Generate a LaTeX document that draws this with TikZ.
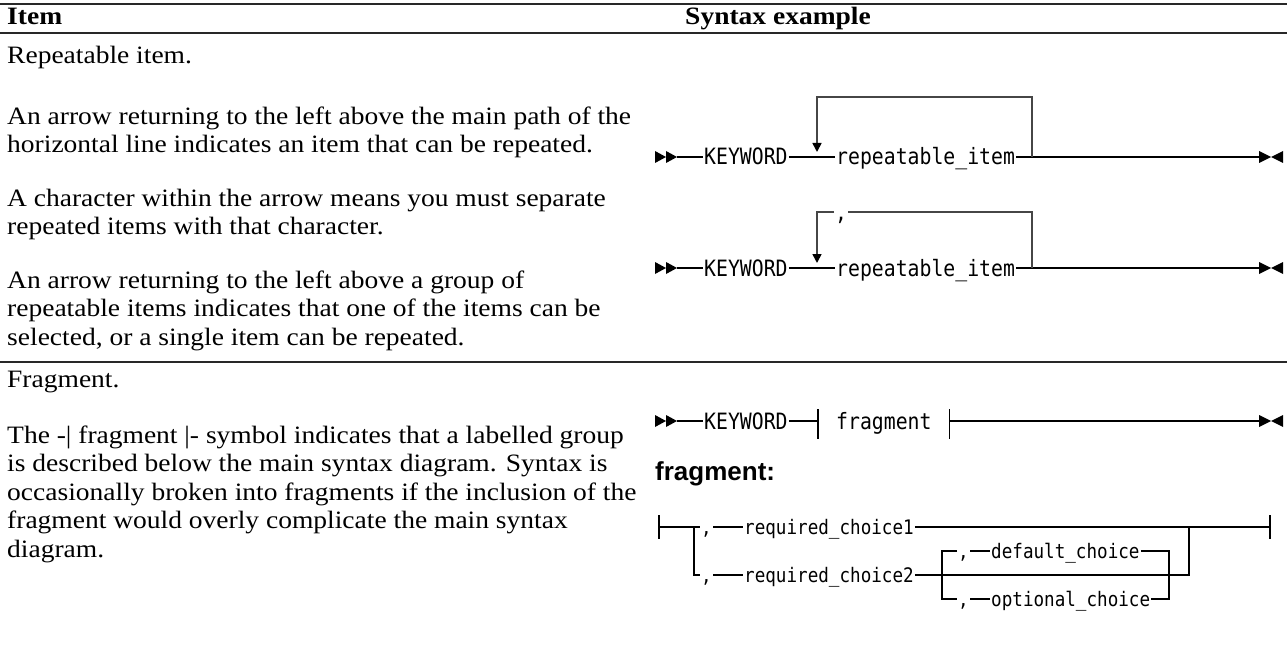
\documentclass[tikz,border=0pt]{standalone}
\usepackage{fontspec}
\setmainfont{Liberation Serif}[FakeStretch=1.1]
\newfontfamily\railfont[FakeStretch=0.88]{DejaVu Sans Mono}
\newfontfamily\labelfont{Liberation Sans}
\usetikzlibrary{arrows.meta}
\definecolor{rulegray}{RGB}{40,40,40}
\definecolor{loopgray}{RGB}{70,70,70}

\tikzset{
  txt/.style={font=\fontsize{25}{28.5}\selectfont, inner sep=0pt, anchor=north west, align=left},
  hdr/.style={font=\bfseries\fontsize{25}{28.5}\selectfont, inner sep=0pt, anchor=base west},
  kw/.style={font=\railfont\fontsize{22.5}{24}\selectfont, inner xsep=1pt, inner ysep=0pt,
             text height=16pt, text depth=0pt, anchor=west},
  kwsm/.style={kw, font=\railfont\fontsize{20}{22}\selectfont, text height=14pt},
  rail/.style={line width=1.2pt},
  back/.style={line width=1.6pt, loopgray},
  joint/.style={line width=2pt},
  tablerule/.style={line width=1.2pt, rulegray},
  dblstart/.pic={\fill (0,-6) -- (11,0) -- (0,6) -- cycle (11,-6) -- (22,0) -- (11,6) -- cycle;},
  dblend/.pic={\fill (0,-6) -- (12,0) -- (0,6) -- cycle (24,-6) -- (12,0) -- (24,6) -- cycle;},
}

\begin{document}
\begin{tikzpicture}[x=1pt,y=-1pt,>={Triangle[width=9pt,length=9pt,color=black]}]
\useasboundingbox (0,0) rectangle (1287,647);

% table rules and headings
\draw[tablerule,line width=2pt] (0,4) -- (1287,4);
\draw[tablerule] (0,33) -- (1287,33);
\draw[tablerule] (0,362) -- (1287,362);
\node[hdr] (hitem) at (7,25) {Item};
\node[hdr] (hsyn) at (685,25) {Syntax example};

% left column (top of node = first baseline - 20)
\node[txt] (repitem) at (7,43) {\strut Repeatable item.};
\node[txt] (para1) at (7,104) {\strut An arrow returning to the left above the main path of the\\
  horizontal line indicates an item that can be repeated.};
\node[txt] (para2) at (7,186) {\strut A character within the arrow means you must separate\\
  repeated items with that character.};
\node[txt] (para3) at (7,268) {\strut An arrow returning to the left above a group of\\
  repeatable items indicates that one of the items can be\\
  selected, or a single item can be repeated.};
\node[txt] (fragitem) at (7,367) {\strut Fragment.};
\node[txt] (para4) at (7,423) {\strut The -\textbar{} fragment \textbar- symbol indicates that a labelled group\\
  is described below the main syntax diagram. Syntax is\\
  occasionally broken into fragments if the inclusion of the\\
  fragment would overly complicate the main syntax\\
  diagram.};

% repeatable item
\pic at (655,157) {dblstart};
\coordinate (s1) at (677,157);
\node[kw] (kw1) at (703,157) {KEYWORD};
\node[kw] (ri1) at (835,157) {repeatable\_item};
\coordinate (j1) at (1032,157);
\coordinate (t1) at (817,97);
\coordinate (h1) at (817,152);
\coordinate (e1) at (1259,157);
\pic at (1259,157) {dblend};
\draw[rail] (s1) -- (kw1) -- (ri1) -- (e1);
\draw[joint] (j1) -- ++(28,0);
\draw[back,->] (j1) |- (t1) -- (h1);

% repeatable item with separator
\pic at (655,268) {dblstart};
\coordinate (s2) at (677,268);
\node[kw] (kw2) at (703,268) {KEYWORD};
\node[kw] (ri2) at (835,268) {repeatable\_item};
\node[kw] (sep2) at (834,212) {,};
\coordinate (j2) at (1032,268);
\coordinate (t2) at (817,212);
\coordinate (h2) at (817,263);
\coordinate (e2) at (1259,268);
\pic at (1259,268) {dblend};
\draw[rail] (s2) -- (kw2) -- (ri2) -- (e2);
\draw[joint] (j2) -- ++(28,0);
\draw[back] (j2) |- (sep2);
\draw[back,->] (sep2) -- (t2) -- (h2);

% fragment reference
\pic at (655,421) {dblstart};
\coordinate (s3) at (677,421);
\node[kw] (kw3) at (703,421) {KEYWORD};
\node[kw, inner xsep=18pt] (fr3) at (818,421) {fragment};
\coordinate (e3) at (1259,421);
\pic at (1259,421) {dblend};
\draw[rail] (s3) -- (kw3) -- (fr3.west);
\draw[rail] (fr3.east) -- (e3);
\draw[joint] (fr3.east) -- ++(30,0);
\draw[rail] (fr3.west) ++(0,-12) -- ++(0,30);
\draw[rail] (fr3.east) ++(0,-12) -- ++(0,30);

% fragment definition
\node[font=\labelfont\bfseries\fontsize{26}{28}\selectfont, inner sep=0pt, anchor=base west]
  (fraghead) at (655,480) {fragment:};

\coordinate (fl) at (659,527);
\coordinate (fb) at (694,527);
\coordinate (fb2) at (694,575);
\node[kwsm] (c1) at (700,527) {,};
\node[kwsm] (rc1) at (743,527) {required\_choice1};
\node[kwsm] (c2) at (700,575) {,};
\node[kwsm] (rc2) at (743,575) {required\_choice2};
\coordinate (fr) at (1189,527);
\coordinate (fr2) at (1189,575);
\coordinate (fe) at (1270,527);
\draw[rail] (fl) -- (c1) -- (rc1) -- (fe);
\draw[rail] (fb) -- (fb2) -- (c2) -- (rc2) -- (fr2) -- (fr);
\draw[joint] (1195,527) -- (1215,527);
\draw[rail] (fl) ++(0,-12) -- ++(0,24);
\draw[rail] (fe) ++(0,-12) -- ++(0,24);

\coordinate (ia) at (942,551);
\coordinate (ib) at (942,599);
\coordinate (ic) at (1169,551);
\coordinate (id) at (1169,599);
\node[kwsm] (c3) at (957,551) {,};
\node[kwsm] (dc) at (990,551) {default\_choice};
\node[kwsm] (c4) at (957,599) {,};
\node[kwsm] (oc) at (990,599) {optional\_choice};
\draw[rail] (c3) -- (ia) -- (ib) -- (c4);
\draw[rail] (c3) -- (dc) -- (ic) -- (id) -- (oc) -- (c4);
\end{tikzpicture}
\end{document}
